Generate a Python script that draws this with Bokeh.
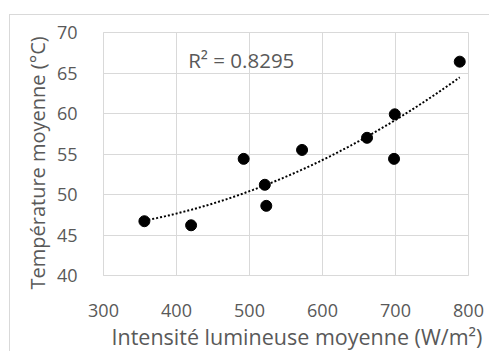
import numpy as np
from bokeh.plotting import figure
from bokeh.models import Range1d, Label, FixedTicker, Title
from bokeh.embed import file_html
from bokeh.resources import INLINE

intensite = [356, 420, 492, 521, 523, 572, 661, 698, 699, 788]
temperature = [46.7, 46.2, 54.4, 51.2, 48.6, 55.5, 57.0, 54.4, 59.9, 66.4]
x_ticks = [300, 400, 500, 600, 700, 800]
y_ticks = [40, 45, 50, 55, 60, 65, 70]
r2_text = "R² = 0.8295"
x_title = "Intensité lumineuse moyenne (W/m²)"
y_title = "Température moyenne (°C)"

FONT = "Open Sans"
GREY = "#595959"
LINE = "#d9d9d9"

# canvas starts at (10, 15) because of the outer chart border
p = figure(width=480, height=337, output_backend="svg", toolbar_location=None,
           x_range=Range1d(300, 800), y_range=Range1d(40, 70),
           min_border_left=93, min_border_right=22, min_border_top=17, min_border_bottom=77)
p.styles = {"margin-left": "9px", "margin-top": "14px",
            "border-left": f"1px solid {LINE}", "border-top": f"1px solid {LINE}"}
p.background_fill_color = "white"
p.border_fill_color = "white"
p.outline_line_color = LINE

for ax in (p.xaxis, p.yaxis):
    ax.axis_line_color = LINE
    ax.major_tick_line_color = None
    ax.minor_tick_line_color = None
    ax.major_label_text_font = FONT
    ax.major_label_text_font_size = "18px"
    ax.major_label_text_color = GREY

p.xaxis.ticker = FixedTicker(ticks=x_ticks)
p.yaxis.ticker = FixedTicker(ticks=y_ticks)
p.xaxis.major_label_standoff = 22
p.yaxis.major_label_standoff = 20

p.xgrid.ticker = FixedTicker(ticks=x_ticks)
p.ygrid.ticker = FixedTicker(ticks=y_ticks)
p.xgrid.grid_line_color = LINE
p.ygrid.grid_line_color = LINE

# polynomial (order 2) trendline derived from the data
coef = np.polyfit(intensite, temperature, 2)
xs = np.linspace(min(intensite), max(intensite), 120)
p.line(xs, np.polyval(coef, xs), line_color="black", line_width=2, line_dash="2 2")

p.scatter(intensite, temperature, size=11, color="black")

p.add_layout(Label(x=416, y=66.6, text=r2_text, text_font=FONT, text_font_size="20.5px",
                   text_color=GREY, text_baseline="middle"))

p.add_layout(Title(text=x_title, text_font=FONT, text_font_size="21.5px", text_color=GREY,
                   text_font_style="normal", align="left", offset=8, standoff=0), "below")
p.add_layout(Title(text=y_title, text_font=FONT, text_font_size="20px", text_color=GREY,
                   text_font_style="normal", align="left", offset=-14, standoff=6), "left")

open("out.html", "w").write(file_html(p, INLINE))
